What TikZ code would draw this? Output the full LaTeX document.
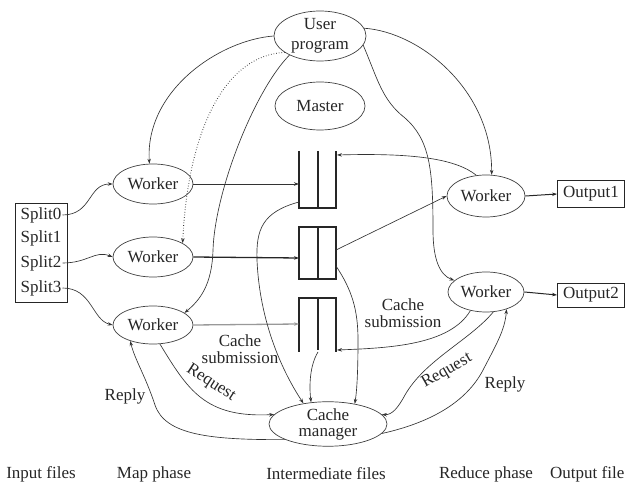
\documentclass[tikz,border=0pt]{standalone}
\usepackage{fontspec}
\setmainfont{Liberation Serif}
\usetikzlibrary{arrows.meta,shapes.geometric}
\begin{document}
\begin{tikzpicture}[x=1pt,y=-1pt,
  every node/.style={font=\fontsize{17}{18}\selectfont, text=black!85},
  ell/.style={draw=black!75, ellipse, line width=0.7pt, inner sep=0pt, align=center},
  box/.style={draw=black!85, rectangle, line width=0.9pt, inner sep=0pt},
  bin/.style={draw=black!85, line width=1.1pt},
  arr/.style={-{Stealth[length=5pt,width=3.5pt]}, draw=black!80, line width=0.65pt},
  lbl/.style={align=center, inner sep=0pt, font=\fontsize{17}{17}\selectfont}
]
\useasboundingbox (0,0) rectangle (630,486);

% nodes
\node[ell, minimum width=92, minimum height=50, font=\fontsize{17}{20}\selectfont] (up) at (320,36) {User\\program};
\node[ell, minimum width=90, minimum height=48] (ma) at (320,106) {Master};
\node[ell, minimum width=80, minimum height=40] (w1) at (153,184) {Worker};
\node[ell, minimum width=80, minimum height=40] (w2) at (153,257) {Worker};
\node[ell, minimum width=80, minimum height=38] (w3) at (153,325) {Worker};
\node[ell, minimum width=78, minimum height=42] (r1) at (486,196) {Worker};
\node[ell, minimum width=76, minimum height=40] (r2) at (486,292) {Worker};
\node[ell, minimum width=118, minimum height=44, font=\fontsize{17}{16}\selectfont] (cm) at (328,424) {Cache\\manager};
\node[box, minimum width=67, minimum height=27] (o1) at (591,194) {Output1};
\node[box, minimum width=67, minimum height=24] (o2) at (591,295) {Output2};

\node[box, minimum width=52, minimum height=99] (sp) at (41,252.5) {};
\node[inner sep=1pt] (s0) at (41,215) {Split0};
\node[inner sep=1pt] (s1) at (41,238) {Split1};
\node[inner sep=1pt] (s2) at (41,263) {Split2};
\node[inner sep=1pt] (s3) at (41,288) {Split3};

% intermediate files
\draw[bin] (299,151) -- (299,208) -- (336,208) -- (336,151);
\draw[bin] (318,151) -- (318,208);
\draw[bin] (299,227) rectangle (336,279);
\draw[bin] (318,227) -- (318,279);
\draw[bin] (299,352) -- (299,298) -- (336,298) -- (336,352);
\draw[bin] (318,298) -- (318,350);

\coordinate (b1in) at (299,184);
\coordinate (b2in) at (299,258);
\coordinate (b3in) at (299,324);
\coordinate (b1tr) at (337,155);
\coordinate (b1l) at (299,202);
\coordinate (b2r) at (336,250);
\coordinate (b2rb) at (336,266);
\coordinate (b3r) at (337,350);
\coordinate (b3b) at (318,352);

% splits to workers
\draw[arr] (s0.east) .. controls (92,215) and (88,184) .. (w1.west);
\draw[arr] (s2.east) .. controls (88,263) and (95,250) .. (w2.west);
\draw[arr] (s3.east) .. controls (92,288) and (92,320) .. (w3.west);

% workers to intermediate files
\draw[arr, line width=0.8pt] (w1.east) -- (b1in);
\draw[arr, line width=1.3pt, draw=black!85] (w2.east) -- (b2in);
\draw[arr, line width=1.3pt, draw=black!40] (w3.east) -- (b3in);

% user program
\draw[arr] (up.180) .. controls (220,40) and (145,90) .. (w1.100);
\draw[arr, dotted, line width=0.9pt] (up.205) .. controls (225,55) and (188,130) .. (w2.25);
\draw[arr] (up.212) .. controls (255,90) and (215,190) .. (213,250) .. controls (212,285) and (200,300) .. (w3.21);
\draw[arr] (up.10) .. controls (420,32) and (492,90) .. (r1.75);
\draw[arr] (up.-12) .. controls (378,80) and (382,100) .. (405,118) .. controls (430,140) and (433,170) .. (433,230) .. controls (433,260) and (440,275) .. (r2.160);

% reduce side
\draw[arr] (r1.115) .. controls (455,158) and (410,153) .. (b1tr);
\draw[arr] (b2r) -- (r1.west);
\draw[arr] (r2.230) .. controls (450,345) and (390,348) .. (b3r);
\node[lbl] (cs2) at (403,313) {Cache\\submission};

% to cache manager
\draw[arr] (b1l) .. controls (262,212) and (256,230) .. (257,260) .. controls (260,330) and (288,380) .. (cm.140);
\draw[arr] (b3b) .. controls (310,365) and (309,385) .. (cm.128);
\draw[arr] (b2rb) .. controls (352,290) and (358,310) .. (358,340) .. controls (358,370) and (357,390) .. (cm.37);
\node[lbl] (cs1) at (240,349) {Cache\\submission};

% request / reply left
\draw[arr] (w3.-70) .. controls (188,390) and (205,418) .. (cm.170);
\node[lbl, rotate=-33] (rq1) at (211,383) {Request};
\draw[arr] (cm.200) .. controls (210,440) and (165,435) .. (155,405) .. controls (145,375) and (135,360) .. (w3.215);
\node[lbl] (rp1) at (125,396) {Reply};

% request / reply right
\draw[arr] (r2.-70) .. controls (470,340) and (425,360) .. (405,395) .. controls (398,408) and (392,415) .. (cm.10);
\node[lbl, rotate=30] (rq2) at (447,371) {Request};
\draw[arr] (cm.-10) .. controls (420,425) and (462,408) .. (482,372) .. controls (496,345) and (505,330) .. (r2.-40);
\node[lbl] (rp2) at (505,384) {Reply};

% outputs
\draw[arr, line width=1pt, draw=black!85] (r1.east) -- (o1.west);
\draw[arr, line width=1pt, draw=black!85] (r2.east) -- (o2.west);

% bottom labels
\node[lbl] (l1) at (41,474) {Input files};
\node[lbl] (l2) at (154,474) {Map phase};
\node[lbl] (l3) at (326,474) {Intermediate files};
\node[lbl] (l4) at (486,474) {Reduce phase};
\node[lbl, anchor=west] (l5) at (550,474) {Output file};
\end{tikzpicture}
\end{document}
